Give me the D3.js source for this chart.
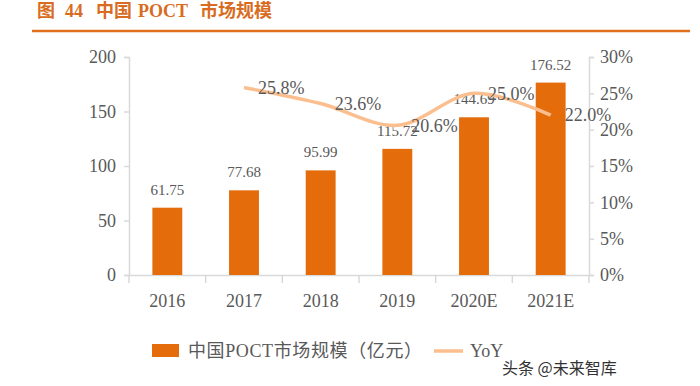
<!DOCTYPE html>
<html>
<head>
<meta charset="utf-8">
<script src="https://cdn.jsdelivr.net/npm/d3@7/dist/d3.min.js"></script>
<style>
  body { margin: 0; background: #fff; }
  svg { display: block; }
  text { font-family: "Liberation Serif", "Noto Sans CJK SC", serif; }
</style>
</head>
<body>
<div id="chart"></div>
<script>
// data
const years = ["2016", "2017", "2018", "2019", "2020E", "2021E"];
const marketSize = [61.75, 77.68, 95.99, 115.72, 144.69, 176.52];
const yoyYears = ["2017", "2018", "2019", "2020E", "2021E"];
const yoyValues = [25.8, 23.6, 20.6, 25.0, 22.0];
const leftTicks = [0, 50, 100, 150, 200];
const rightTicks = [0, 5, 10, 15, 20, 25, 30];

const W = 700, H = 386;
const margin = { top: 57, right: 111, bottom: 111, left: 129 };
const width = W - margin.left - margin.right;
const height = H - margin.top - margin.bottom;

const barColor = "#E46C0A";
const lineColor = "#FBBF8F";
const axisColor = "#D9D9D9";
const textColor = "#595959";

const svg = d3.select("#chart")
  .append("svg")
  .attr("width", W)
  .attr("height", H);

// title + rule
const title = svg.append("text")
  .attr("y", 17)
  .style("font-size", "18px")
  .style("font-weight", "bold")
  .attr("fill", "#D86C22");
[["图", 37], ["44", 65], ["中国", 96], ["POCT", 138], ["市场规模", 200]].forEach(p => {
  title.append("tspan").attr("x", p[1]).text(p[0]);
});

svg.append("line")
  .attr("x1", 32).attr("x2", 690)
  .attr("y1", 31).attr("y2", 31)
  .attr("stroke", "#E0701E")
  .attr("stroke-width", 2.5);

const g = svg.append("g")
  .attr("transform", `translate(${margin.left},${margin.top})`);

// scales
const x = d3.scaleBand().domain(years).range([0, width]).paddingInner(0.61).paddingOuter(0.305);
const y = d3.scaleLinear().domain([0, 200]).range([height, 0]);
const y2 = d3.scaleLinear().domain([0, 30]).range([height, 0]);

// left axis
const leftAxis = g.append("g")
  .call(d3.axisLeft(y).tickValues(leftTicks).tickSize(5).tickPadding(8));
// right axis
const rightAxis = g.append("g")
  .attr("transform", `translate(${width},0)`)
  .call(d3.axisRight(y2).tickValues(rightTicks).tickSize(5).tickPadding(6).tickFormat(d => d + "%"));
// bottom axis with ticks on category boundaries
const bottomAxis = g.append("g")
  .attr("transform", `translate(0,${height})`)
  .call(d3.axisBottom(x).tickSize(0).tickPadding(19));

const step = x.step();
bottomAxis.selectAll(".bound")
  .data(d3.range(years.length + 1))
  .enter()
  .append("line")
  .attr("class", "bound")
  .attr("x1", d => d * step).attr("x2", d => d * step)
  .attr("y1", 0).attr("y2", 8);

[leftAxis, rightAxis, bottomAxis].forEach(a => {
  a.selectAll("path, line").attr("stroke", axisColor).attr("stroke-width", 1.5);
  a.selectAll("text")
    .attr("fill", textColor)
    .style("font-size", "18px")
    .style("font-family", "'Liberation Serif', serif");
});

// bars
g.selectAll("rect.bar")
  .data(marketSize)
  .enter()
  .append("rect")
  .attr("class", "bar")
  .attr("x", (d, i) => x(years[i]))
  .attr("y", d => y(d))
  .attr("width", x.bandwidth())
  .attr("height", d => height - y(d))
  .attr("fill", barColor);

g.selectAll("text.barlabel")
  .data(marketSize)
  .enter()
  .append("text")
  .attr("class", "barlabel")
  .attr("x", (d, i) => x(years[i]) + x.bandwidth() / 2)
  .attr("y", d => y(d) - 13)
  .attr("text-anchor", "middle")
  .attr("fill", textColor)
  .style("font-size", "15px")
  .text(d => d.toFixed(2));

// YoY line
const cx = yr => x(yr) + x.bandwidth() / 2;
const line = d3.line()
  .x((d, i) => cx(yoyYears[i]))
  .y(d => y2(d))
  .curve(d3.curveCatmullRom.alpha(0.5));

g.append("path")
  .datum(yoyValues)
  .attr("d", line)
  .attr("fill", "none")
  .attr("stroke", lineColor)
  .attr("stroke-width", 3.5);

g.selectAll("text.yoylabel")
  .data(yoyValues)
  .enter()
  .append("text")
  .attr("class", "yoylabel")
  .attr("x", (d, i) => cx(yoyYears[i]) + 14)
  .attr("y", d => y2(d))
  .attr("dy", "0.35em")
  .attr("fill", textColor)
  .style("font-size", "18px")
  .text(d => d.toFixed(1) + "%");

// legend
const legend = svg.append("g");
legend.append("rect")
  .attr("x", 152).attr("y", 344)
  .attr("width", 27).attr("height", 13)
  .attr("fill", barColor);
legend.append("text")
  .attr("x", 188).attr("y", 351)
  .attr("dy", "0.35em")
  .attr("fill", textColor)
  .style("font-size", "18px")
  .attr("textLength", 234)
  .attr("lengthAdjust", "spacing")
  .text("中国POCT市场规模（亿元）");
legend.append("line")
  .attr("x1", 434).attr("x2", 463)
  .attr("y1", 351).attr("y2", 351)
  .attr("stroke", lineColor)
  .attr("stroke-width", 3.5);
legend.append("text")
  .attr("x", 470).attr("y", 351)
  .attr("dy", "0.35em")
  .attr("fill", textColor)
  .style("font-size", "18px")
  .text("YoY");

// watermark
svg.append("text")
  .attr("x", 502).attr("y", 368)
  .attr("dy", "0.35em")
  .attr("fill", "#333")
  .attr("stroke", "#fff")
  .attr("stroke-width", 3)
  .attr("paint-order", "stroke")
  .style("font-family", "'Noto Sans CJK SC', sans-serif")
  .style("font-size", "16px")
  .text("头条 @未来智库");
</script>
</body>
</html>
